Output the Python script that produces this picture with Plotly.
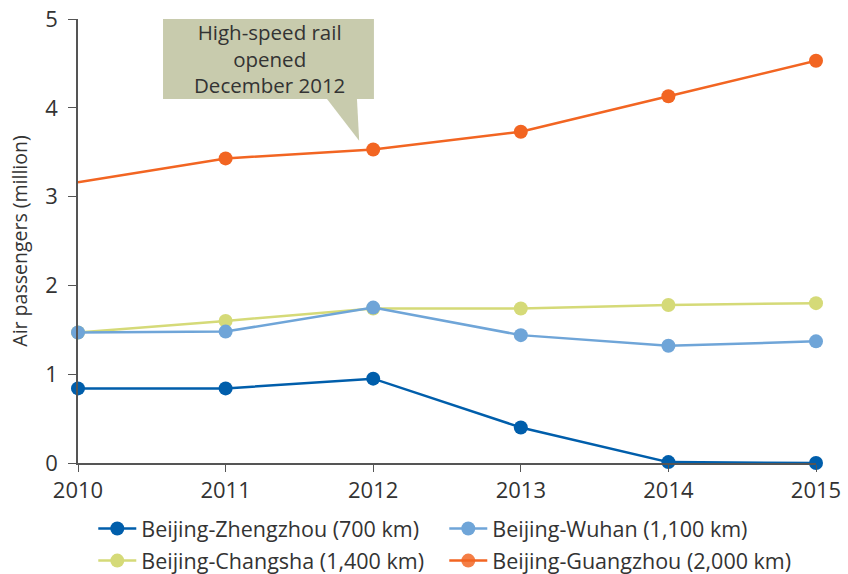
import plotly.graph_objects as go

years = [2010, 2011, 2012, 2013, 2014, 2015]
zhengzhou = [0.84, 0.84, 0.95, 0.40, 0.01, 0.0]
wuhan = [1.47, 1.48, 1.75, 1.44, 1.32, 1.37]
changsha = [1.47, 1.60, 1.74, 1.74, 1.78, 1.80]
guangzhou = [3.16, 3.43, 3.53, 3.73, 4.13, 4.53]
guangzhou_marker_opacity = [0, 1, 1, 1, 1, 1]

names = ["Beijing-Zhengzhou (700 km)", "Beijing-Wuhan (1,100 km)",
         "Beijing-Changsha (1,400 km)", "Beijing-Guangzhou (2,000 km)"]
colors = ["#005eab", "#6fa5d8", "#d5da78", "#f26522"]

FONT = "Open Sans"
TXT = "#333333"

fig = go.Figure()

def add(y, i, legend, rank, mop=None):
    marker = dict(size=14, color=colors[i])
    if mop is not None:
        marker["opacity"] = mop
    fig.add_trace(go.Scatter(
        x=years, y=y, name=names[i], mode="lines+markers",
        line=dict(color=colors[i], width=2.5), marker=marker,
        cliponaxis=False, legend=legend, legendrank=rank))

add(changsha, 2, "legend2", 1)
add(wuhan, 1, "legend", 2)
add(zhengzhou, 0, "legend", 1)
add(guangzhou, 3, "legend2", 2, guangzhou_marker_opacity)

# callout box
fig.add_shape(type="rect", xref="x", yref="y", x0=2010.576, x1=2012.005, y0=4.10, y1=5.0,
              fillcolor="#c8cbad", line_width=0, layer="above")
fig.add_shape(type="path", xref="x", yref="y",
              path="M 2011.687 4.10 L 2011.905 3.63 L 2011.89 4.10 Z",
              fillcolor="#c8cbad", line_width=0, layer="above")
fig.add_annotation(x=2011.30, y=4.55, xref="x", yref="y",
                   text="High-speed rail<br>opened<br>December 2012",
                   showarrow=False, font=dict(family=FONT, size=20.5, color=TXT),
                   align="center")

leg_common = dict(orientation="h", xanchor="left", yanchor="top",
                  xref="container", yref="container",
                  font=dict(family=FONT, size=21.5, color=TXT),
                  entrywidth=298, itemwidth=38, bgcolor="rgba(0,0,0,0)",
                  traceorder="normal", tracegroupgap=0)
fig.update_layout(
    width=848, height=574,
    margin=dict(l=78, r=32, t=19, b=111, autoexpand=False),
    paper_bgcolor="white", plot_bgcolor="white",
    font=dict(family=FONT, size=20, color=TXT),
    xaxis=dict(range=[2010, 2015], tickmode="array", tickvals=years,
               ticktext=[str(y) for y in years], showgrid=False, zeroline=False,
               showline=True, linecolor="#555555", linewidth=1.5,
               ticks="outside", ticklen=7, tickcolor="#555555", automargin=False,
               tickfont=dict(family=FONT, size=22, color=TXT)),
    yaxis=dict(range=[0, 5], tickvals=[0, 1, 2, 3, 4, 5], showgrid=False, zeroline=False,
               showline=True, linecolor="#555555", linewidth=1.5,
               ticks="outside", ticklen=8, tickcolor="#555555", automargin=False,
               ticklabelstandoff=6,
               tickfont=dict(family=FONT, size=22, color=TXT),
               title=dict(text="Air passengers (million)",
                          font=dict(family=FONT, size=19.5, color=TXT), standoff=12)),
    legend=dict(x=0.11, y=0.115, **leg_common),
    legend2=dict(x=0.11, y=0.059, **leg_common),
    showlegend=True,
)

fig.write_html("out.html", config={"displayModeBar": False},
               post_script="document.body.style.margin='0';document.body.style.overflow='hidden';")
